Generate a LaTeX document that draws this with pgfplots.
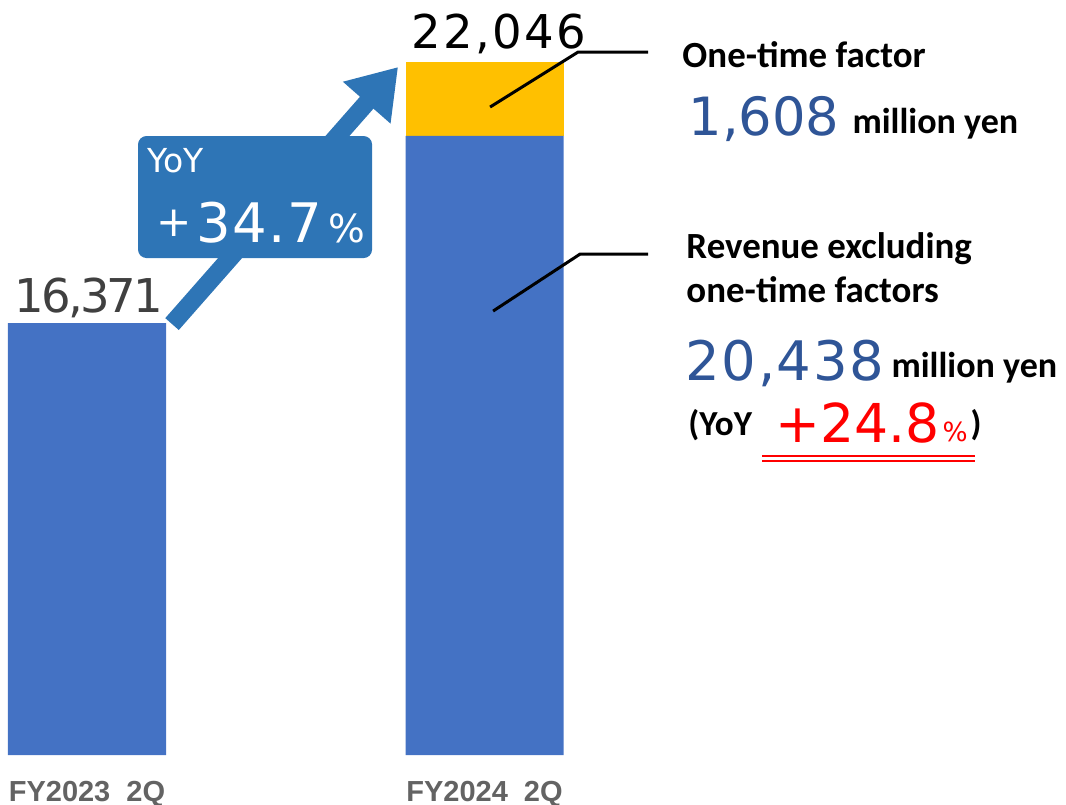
\documentclass[border=0pt]{standalone}
\usepackage{pgfplots}
\pgfplotsset{compat=1.18}
\usepackage{pgfplotstable}
\usepackage{fontspec}
\setmainfont{Carlito}
\newfontfamily\numfont{DejaVu Sans}
\newfontfamily\numfontA[LetterSpace=-6]{DejaVu Sans}
\newfontfamily\numfontB[LetterSpace=5]{DejaVu Sans}
\newfontfamily\numfontC[LetterSpace=3]{DejaVu Sans}
\newfontfamily\arialfont{Liberation Sans}
\usetikzlibrary{arrows.meta}
\definecolor{barblue}{HTML}{4472C4}
\definecolor{barorange}{HTML}{FFC000}
\definecolor{boxblue}{HTML}{2E75B6}
\definecolor{numblue}{HTML}{2F5597}
\definecolor{darkgray}{HTML}{404040}
\definecolor{labelgray}{HTML}{636363}
\pgfplotstableread{
x base extra
87 16371 0
484.5 20438 1608
}\datatable
\begin{document}
\begin{tikzpicture}
\useasboundingbox (0,0) rectangle (21.32cm,-16.1cm);
\begin{axis}[at={(0cm,-15.1cm)}, anchor=south west, scale only axis,
  width=21.32cm, height=15.1cm,
  xmin=0, xmax=1066, ymin=6978, ymax=23395,
  ybar stacked, bar width=3.16cm,
  axis line style={draw=none}, ytick=\empty,
  xtick={87,484.5}, xticklabels={FY2023\ \ 2Q, FY2024\ \ 2Q},
  major tick length=0pt,
  xticklabel style={font=\arialfont\bfseries\fontsize{16.5}{18}\selectfont, text=labelgray, anchor=base, yshift=-0.92cm, inner sep=0pt}]
\addplot[fill=barblue, draw=none] table[x=x,y=base]{\datatable};
\addplot[fill=barorange, draw=none] table[x=x,y=extra]{\datatable};
\end{axis}
\begin{scope}[x=0.02cm,y=0.02cm]
% arrow
\draw[boxblue, line width=0.36cm, -{Triangle[length=0.95cm,width=1.2cm]}] (172,-324) -- (398,-67);
% box
\fill[boxblue, rounded corners=0.17cm] (138,-136) rectangle (372,-258);
\node[anchor=base west, inner sep=0, text=white, font=\numfont\fontsize{18.8}{20}\selectfont] at (147,-172) {YoY};
\node[anchor=base west, inner sep=0, text=white, font=\numfont\fontsize{24}{24}\selectfont] at (156,-236) {+};
\node[anchor=base west, inner sep=0, text=white, font=\numfontC\fontsize{31}{31}\selectfont] at (196,-242) {34.7};
\node[anchor=base west, inner sep=0, text=white, font=\numfont\fontsize{22}{22}\selectfont] at (328,-242) {\%};
% value labels
\node[anchor=base west, inner sep=0, text=darkgray, font=\numfontA\fontsize{26.5}{26}\selectfont] at (14,-312) {16,371};
\node[anchor=base west, inner sep=0, text=black, font=\numfontB\fontsize{26.5}{26}\selectfont] at (411,-48) {22,046};
% leader lines
\draw[black, line width=0.06cm] (490,-107) -- (578,-52) -- (648,-52);
\draw[black, line width=0.06cm] (493,-311) -- (580,-254) -- (648,-254);
% right text
\node[anchor=base west, inner sep=0, font=\bfseries\fontsize{21}{21}\selectfont] at (682,-67) {One-time factor};
\node[anchor=base west, inner sep=0, text=numblue, font=\numfont\fontsize{30}{30}\selectfont] at (688,-135) {1,608};
\node[anchor=base west, inner sep=0, font=\bfseries\fontsize{20.5}{21}\selectfont] at (852,-133) {million yen};
\node[anchor=base west, inner sep=0, font=\bfseries\fontsize{21}{21}\selectfont] at (686,-258) {Revenue excluding};
\node[anchor=base west, inner sep=0, font=\bfseries\fontsize{21}{21}\selectfont] at (686,-302) {one-time factors};
\node[anchor=base west, inner sep=0, text=numblue, font=\numfontC\fontsize{31}{32}\selectfont] at (685,-380) {20,438};
\node[anchor=base west, inner sep=0, font=\bfseries\fontsize{20.5}{21}\selectfont] at (891,-377) {million yen};
\node[anchor=base west, inner sep=0, font=\bfseries\fontsize{20}{21}\selectfont] at (688,-435) {(YoY};
\node[anchor=base west, inner sep=0, text=red, font=\numfont\fontsize{30.5}{31}\selectfont] at (775,-442) {+24.8};
\node[anchor=base west, inner sep=0, text=red, font=\numfont\fontsize{15}{15}\selectfont] at (942,-441) {\%};
\node[anchor=base west, inner sep=0, font=\bfseries\fontsize{20}{21}\selectfont] at (970,-435) {)};
\draw[red, line width=0.03cm] (762,-456) -- (975,-456);
\draw[red, line width=0.03cm] (762,-461) -- (975,-461);
\end{scope}
\end{tikzpicture}
\end{document}
